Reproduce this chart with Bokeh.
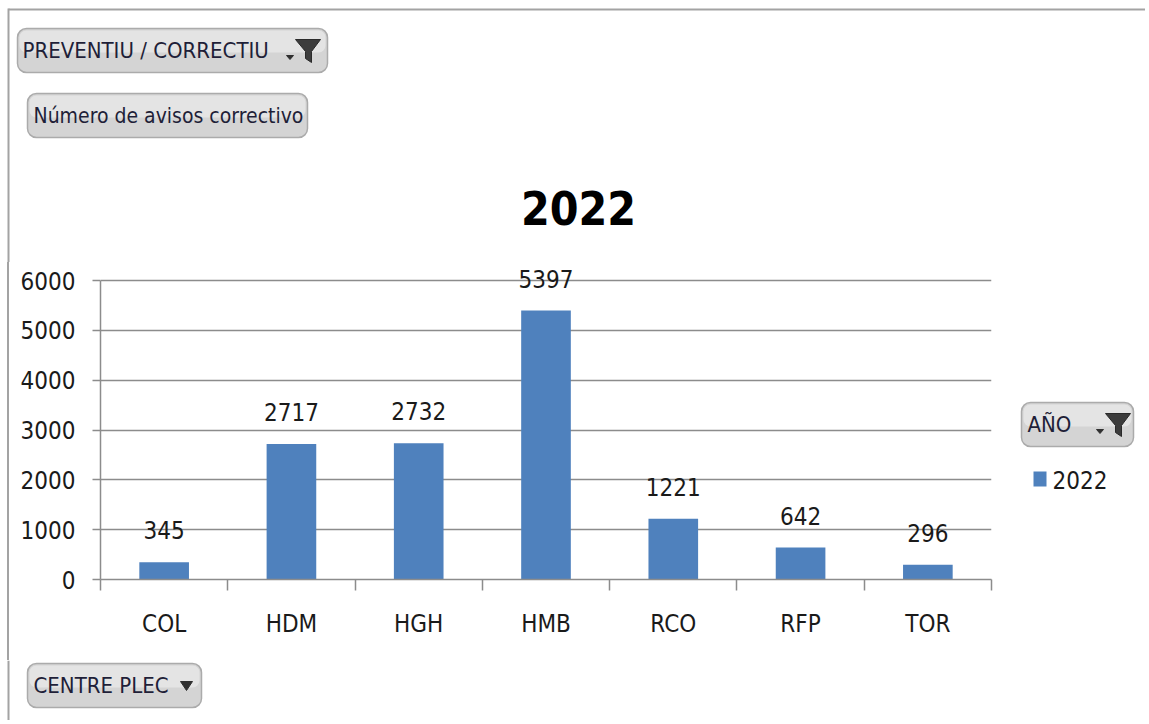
from bokeh.plotting import figure
from bokeh.layouts import column, row
from bokeh.models import Range1d, LinearAxis, FixedTicker, Div
from bokeh.embed import file_html
from bokeh.resources import INLINE
from bokeh.core.properties import value

# ---- data ----
centres = ["COL", "HDM", "HGH", "HMB", "RCO", "RFP", "TOR"]
avisos = [345, 2717, 2732, 5397, 1221, 642, 296]
year_label = "2022"
y_ticks = [0, 1000, 2000, 3000, 4000, 5000, 6000]
filter_top = "PREVENTIU / CORRECTIU"
measure_name = "Número de avisos correctivo"
legend_field = "AÑO"
axis_field = "CENTRE PLEC"

FONT = "DejaVu Sans Condensed, Liberation Sans, sans-serif"
GRAY = "#8C8C8C"
TXT = "#1a1a1a"
BTN_TXT = "#1F1F38"
BAR = "#4F81BD"
EDGE = "#A3A3A3"

# frame of the chart in page pixels
F_LEFT, F_RIGHT, F_GRID_TOP, F_TOP, F_BOTTOM = 100, 991, 280, 262, 579

TOTAL_W, TOTAL_H = 1145, 720
TOP_H = F_TOP        # height of the top strip
MID_H = 660 - F_TOP  # height of the chart row
BOT_H = TOTAL_H - TOP_H - MID_H
STRIP_W = 10
MAIN_W = 1000
RIGHT_W = TOTAL_W - STRIP_W - MAIN_W


def decor(x0, y0, w, h, top=0, bottom=0):
    f = figure(width=w, height=h, x_range=Range1d(x0, x0 + w),
               y_range=Range1d(y0 + h - bottom, y0 + top),
               x_axis_location=None, y_axis_location=None, tools="",
               output_backend="svg", toolbar_location=None,
               min_border_left=0, min_border_right=0,
               min_border_top=top, min_border_bottom=bottom)
    f.outline_line_color = None
    f.grid.visible = False
    f.border_fill_color = "white"
    f.background_fill_color = "white"
    return f


def button(f, x0, y0, x1, y1):
    f.quad(left=x0, right=x1, top=y0, bottom=y1, fill_color="#D4D4D4",
           line_color="#ABABAB", line_width=1.5, border_radius=9)
    f.quad(left=x0 + 2, right=x1 - 2, top=y0 + 2, bottom=(y0 + y1) / 2 + 2,
           fill_color="#E4E4E4", line_color=None, border_radius=7)


def txt(f, s, x, y, size="22px", align="left", bold=False, color=BTN_TXT):
    f.text(x=[x], y=[y], text=[s], text_font=value(FONT), text_font_size=size,
           text_align=align, text_baseline="middle", text_color=color,
           text_font_style="bold" if bold else "normal")


def tri(f, x0, y0, w, h, color="#303030"):
    f.patch([x0, x0 + w, x0 + w / 2], [y0, y0, y0 + h], fill_color=color, line_color=color)


def funnel(f, x0, y0):
    tri(f, x0, y0 + 17, 7, 4)
    f.patch([x0 + 9, x0 + 34, x0 + 25, x0 + 25, x0 + 19, x0 + 19],
            [y0 + 1, y0 + 1, y0 + 13, y0 + 24, y0 + 20, y0 + 13],
            fill_color="#3C3C3C", line_color="#2A2A2A")


def left_line(f, y0, y1):
    f.quad(left=7, right=9, top=y0, bottom=y1, fill_color=EDGE, line_color=None)


# ---- top strip ----
top = decor(0, 0, TOTAL_W, TOP_H)
top.quad(left=8, right=TOTAL_W, top=8, bottom=10, fill_color=EDGE, line_color=None)
left_line(top, 8, TOP_H)
button(top, 17, 28, 327, 72)
txt(top, filter_top, 22, 50)
funnel(top, 286, 38)
button(top, 27, 93, 307, 137)
txt(top, measure_name, 33, 115, size="21px")
txt(top, year_label, 578, 207, size="46px", align="center", bold=True, color="black")

# ---- left strip (border line only) ----
strip = Div(text="", width=STRIP_W, height=MID_H, margin=0,
            styles={"background": "linear-gradient(to right, white 7px, %s 7px, %s 9px, white 9px)" % (EDGE, EDGE)})

# ---- main chart ----
n = len(centres)
centre_pos = [i + 0.5 for i in range(n)]
y_end = y_ticks[-1] * (F_BOTTOM - F_TOP) / (F_BOTTOM - F_GRID_TOP)

p = figure(width=MAIN_W, height=MID_H,
           x_range=Range1d(0, n), y_range=Range1d(0, y_end),
           x_axis_location=None, tools="",
           output_backend="svg", toolbar_location=None,
           min_border_left=F_LEFT - STRIP_W, min_border_right=STRIP_W + MAIN_W - F_RIGHT,
           min_border_top=F_TOP - TOP_H, min_border_bottom=TOP_H + MID_H - F_BOTTOM)
p.outline_line_color = None
p.border_fill_color = "white"

tick_axis = LinearAxis(ticker=FixedTicker(ticks=list(range(n + 1))),
                       major_tick_out=11, major_tick_in=0,
                       minor_tick_line_color=None,
                       major_tick_line_color=GRAY, major_tick_line_width=1.5,
                       axis_line_color=GRAY, axis_line_width=1.5,
                       major_label_text_font_size="1px", major_label_text_alpha=0,
                       major_label_standoff=0)
p.add_layout(tick_axis, "below")

cat_axis = LinearAxis(ticker=FixedTicker(ticks=centre_pos),
                      major_label_overrides={c: name for c, name in zip(centre_pos, centres)},
                      major_tick_line_color=None, minor_tick_line_color=None,
                      axis_line_color=None,
                      major_label_standoff=13,
                      major_label_text_font=FONT,
                      major_label_text_font_size="24px",
                      major_label_text_color=TXT)
p.add_layout(cat_axis, "below")

yax = p.yaxis[0]
yax.ticker = FixedTicker(ticks=y_ticks)
yax.bounds = (y_ticks[0], y_ticks[-1])
yax.major_tick_out = 8
yax.major_tick_in = 0
yax.minor_tick_line_color = None
yax.major_tick_line_color = GRAY
yax.major_tick_line_width = 1.5
yax.axis_line_color = GRAY
yax.axis_line_width = 1.5
yax.major_label_standoff = 17
yax.major_label_text_font = FONT
yax.major_label_text_font_size = "24px"
yax.major_label_text_color = TXT

p.xgrid.grid_line_color = None
p.ygrid.ticker = FixedTicker(ticks=y_ticks)
p.ygrid.grid_line_color = GRAY
p.ygrid.grid_line_width = 1.5

bars = p.vbar(x=centre_pos, top=avisos, width=0.39, fill_color=BAR, line_color=None)
p.text(x=centre_pos, y=avisos, text=[str(v) for v in avisos],
       text_align="center", text_baseline="middle", y_offset=-32,
       text_font=value(FONT), text_font_size="24px", text_color=TXT)

# ---- right strip: field button + legend (frame aligned with the chart frame) ----
rx0 = STRIP_W + MAIN_W
right = decor(rx0, TOP_H, RIGHT_W, MID_H, top=F_TOP - TOP_H, bottom=TOP_H + MID_H - F_BOTTOM)
button(right, 1021, 402, 1133, 446)
txt(right, legend_field, 1027, 424)
funnel(right, 1096, 412)
# legend entry: swatch + series name
right.quad(left=1033, right=1046, top=471, bottom=486, fill_color=BAR, line_color=None)
txt(right, year_label, 1052, 479, size="24px", color=TXT)

# ---- bottom strip ----
bottom = decor(0, TOP_H + MID_H, TOTAL_W, BOT_H)
left_line(bottom, TOP_H + MID_H, TOTAL_H)
button(bottom, 27, 663, 201, 707)
txt(bottom, axis_field, 33, 685)
tri(bottom, 180, 681, 12, 9)

layout = column(top, row(strip, p, right, spacing=0), bottom, spacing=0)
open("out.html", "w").write(file_html(layout, INLINE))
